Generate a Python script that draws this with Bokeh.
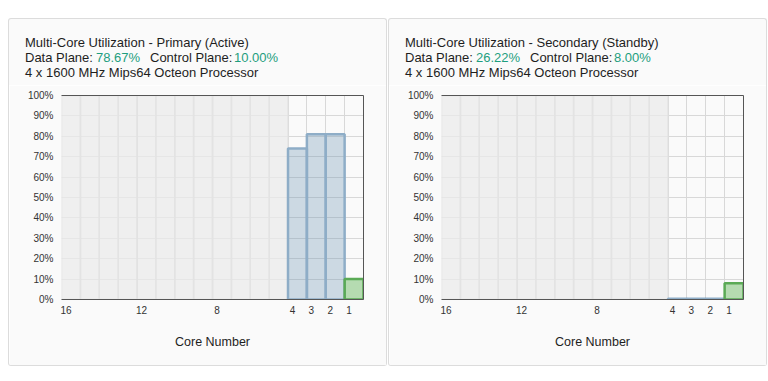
from bokeh.plotting import figure
from bokeh.models import (Range1d, FixedTicker, PrintfTickFormatter, LinearAxis, Spacer, Div,
                          CustomJSTickFormatter)
from bokeh.layouts import row, column
from bokeh.embed import file_html
from bokeh.resources import INLINE

# ---------------- data ----------------
panel_titles = ["Multi-Core Utilization - Primary (Active)",
                "Multi-Core Utilization - Secondary (Standby)"]
data_plane_pct = ["78.67%", "26.22%"]
control_plane_pct = ["10.00%", "8.00%"]
processor_text = "4 x 1600 MHz Mips64 Octeon Processor"

all_cores = list(range(1, 17))
unavailable_cores = list(range(5, 17))
data_cores = [4, 3, 2]
control_cores = [1]
primary_data_util = [74, 81, 81]
primary_control_util = [10]
secondary_data_util = [0.4, 0.4, 0.4]
secondary_control_util = [8]

x_tick_values = [16, 12, 8, 4, 3, 2, 1]
y_tick_values = [0, 10, 20, 30, 40, 50, 60, 70, 80, 90, 100]

# ---------------- style ----------------
FONT = "Liberation Sans"
TEXT = "#1e1e1e"
GREEN_TXT = "#1e9e7e"
AXIS = "#555555"
GRID = "#d8d8d8"
BG = "#fafafa"
BORDER = "1px solid #dcdcdc"
PANEL_W = 379
HEADER_H = 67
CHART_H = 281
LABEL_SHIFT = 0.26   # tick labels sit slightly left of column centres


def make_header(title, dp, cp):
    def seg(left, top, t, color):
        return (f'<span style="position:absolute;left:{left}px;top:{top}px;'
                f'color:{color};white-space:pre;line-height:13px">{t}</span>')

    html = ('<div style="position:relative;width:377px;height:66px;'
            f'font-family:\'{FONT}\';font-size:13px;">'
            + seg(16, 17, title, TEXT)
            + seg(16, 32, "Data Plane: ", TEXT)
            + seg(87, 32, dp, GREEN_TXT)
            + seg(141, 32, "Control Plane: ", TEXT)
            + seg(225, 32, cp, GREEN_TXT)
            + seg(16, 47, processor_text, TEXT)
            + '</div>')
    return Div(text=html, width=PANEL_W, height=HEADER_H,
               styles={"background-color": BG, "border-top": BORDER,
                       "border-left": BORDER, "border-right": BORDER,
                       "border-top-left-radius": "3px", "border-top-right-radius": "3px",
                       "box-sizing": "border-box", "margin": "0", "padding": "0",
                       "overflow": "hidden"})


def make_chart(d_util, c_util):
    n = len(all_cores)
    p = figure(width=PANEL_W, height=CHART_H, output_backend="svg", toolbar_location=None,
               x_range=Range1d(n + 0.5, 0.5), y_range=Range1d(0, 100),
               min_border_left=52, min_border_right=25, min_border_top=10,
               min_border_bottom=67)
    p.background_fill_color = BG
    p.border_fill_color = BG
    p.outline_line_color = None
    p.styles = {"border-bottom": BORDER, "border-left": BORDER, "border-right": BORDER,
                "border-bottom-left-radius": "3px", "border-bottom-right-radius": "3px",
                "box-sizing": "border-box"}

    # grids
    p.xgrid.ticker = FixedTicker(ticks=[c + 0.5 for c in range(0, n + 1)])
    p.xgrid.grid_line_color = GRID
    p.ygrid.ticker = FixedTicker(ticks=y_tick_values)
    p.ygrid.grid_line_color = GRID

    # axes
    p.xaxis.ticker = FixedTicker(ticks=[c + LABEL_SHIFT for c in x_tick_values])
    p.xaxis.formatter = CustomJSTickFormatter(
        args=dict(shift=LABEL_SHIFT), code="return (tick - shift).toFixed(0);")
    p.xaxis.axis_label = "Core Number"
    p.xaxis.axis_label_text_font = FONT
    p.xaxis.axis_label_text_font_size = "12.5px"
    p.xaxis.axis_label_text_font_style = "normal"
    p.xaxis.axis_label_text_color = TEXT
    p.xaxis.axis_label_standoff = 18
    p.xaxis.axis_line_color = AXIS
    p.xaxis.major_tick_line_color = None
    p.xaxis.minor_tick_line_color = None
    p.xaxis.major_tick_out = 0
    p.xaxis.minor_tick_out = 0
    p.xaxis.major_label_text_font = FONT
    p.xaxis.major_label_text_font_size = "10px"
    p.xaxis.major_label_text_color = "#333333"
    p.xaxis.major_label_standoff = 6

    p.yaxis.ticker = FixedTicker(ticks=y_tick_values)
    p.yaxis.formatter = PrintfTickFormatter(format="%d%%")
    p.yaxis.axis_line_color = None
    p.yaxis.major_tick_line_color = None
    p.yaxis.minor_tick_line_color = None
    p.yaxis.major_tick_out = 0
    p.yaxis.minor_tick_out = 0
    p.yaxis.major_label_text_font = FONT
    p.yaxis.major_label_text_font_size = "10px"
    p.yaxis.major_label_text_color = "#333333"
    p.yaxis.major_label_standoff = 8

    for place in ("above", "right"):
        ax = LinearAxis(axis_line_color=AXIS, major_tick_line_color=None,
                        minor_tick_line_color=None, major_tick_out=0, minor_tick_out=0,
                        major_label_text_font_size="0px", major_label_standoff=0,
                        ticker=FixedTicker(ticks=[]))
        p.add_layout(ax, place)

    # unavailable cores
    p.vbar(x=unavailable_cores, top=[100] * len(unavailable_cores), width=1,
           fill_color="#ebebeb", fill_alpha=0.73,
           line_color="#e2e2e2", line_alpha=0.8, line_width=1.5)
    # data plane cores
    p.vbar(x=data_cores, top=d_util, width=1,
           fill_color="#648fb1", fill_alpha=0.3,
           line_color="#8eadc7", line_width=2.5)
    # control plane core
    p.vbar(x=control_cores, top=c_util, width=1,
           fill_color="#4dac43", fill_alpha=0.4,
           line_color="#5aaa55", line_width=2.5)
    return p


def make_panel(i, d_util, c_util):
    return column(make_header(panel_titles[i], data_plane_pct[i], control_plane_pct[i]),
                  make_chart(d_util, c_util), spacing=0)


panel1 = make_panel(0, primary_data_util, primary_control_util)
panel2 = make_panel(1, secondary_data_util, secondary_control_util)

layout = column(Spacer(height=18),
                row(Spacer(width=8), panel1, Spacer(width=1), panel2, spacing=0),
                spacing=0)
open("out.html", "w").write(file_html(layout, INLINE))
